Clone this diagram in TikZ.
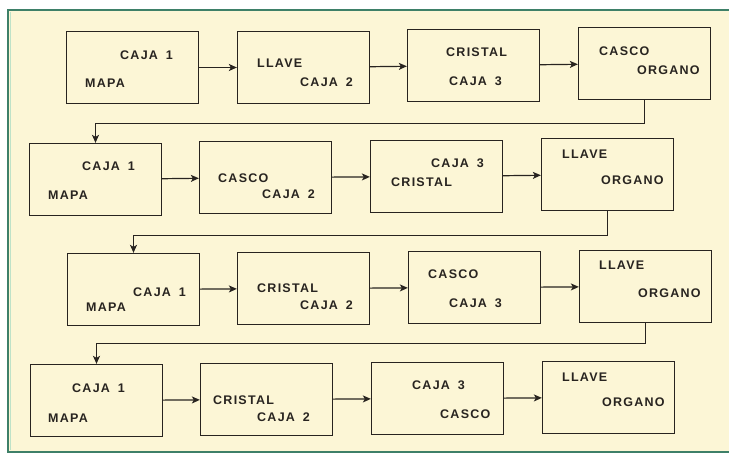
\documentclass[tikz,border=0pt]{standalone}
\usepackage{fontspec}
\setmainfont{Liberation Sans}[LetterSpace=10]
\usetikzlibrary{arrows.meta}
\definecolor{crema}{RGB}{252,246,214}
\definecolor{marco}{RGB}{62,128,104}
\definecolor{menta}{RGB}{190,226,200}
\definecolor{tinta}{RGB}{40,36,32}
\begin{document}
\begin{tikzpicture}[x=1pt,y=-1pt,
    caja/.style={draw=tinta,line width=1.3pt,minimum width=132pt,minimum height=72pt,inner sep=0pt},
    lbl/.style={anchor=west,inner sep=0pt,text=tinta,font=\bfseries\fontsize{12.5}{14}\selectfont},
    flecha/.style={draw=tinta,line width=1.2pt,-{Stealth[length=8pt,width=7pt,inset=2pt]}}]
      \useasboundingbox (0,0) rectangle (729,455);
      \fill[crema] (8,10) rectangle (729,452);
      \draw[menta,line width=1.2pt] (10.5,12) -- (10.5,450);
      \draw[marco,line width=2.2pt] (729,10) -- (8,10) -- (8,452) -- (729,452);
      % cajas
      \foreach \n/\x/\y in {b1/132.5/67.5,b2/303.5/67.5,b3/473.5/65.5,b4/644.5/63.5,
                            b5/95.5/179.5,b6/265.5/177.5,b7/436.5/176.5,b8/607.5/174.5,
                            b9/133.5/289.5,b10/303.5/288.5,b11/474.5/287.5,b12/645.5/286.5,
                            b13/96.5/400.5,b14/266.5/399.5,b15/437.5/398.5,b16/608.5/397.5} {
        \node[caja] (\n) at (\x,\y) {};
      }
      % textos
      \foreach \n/\x/\y/\t in {t1a/120/55/{CAJA\hspace{8pt}1},t1b/85/83/MAPA,
                               t2a/257/63/LLAVE,t2b/300/82/{CAJA\hspace{8pt}2},
                               t3a/446/52/CRISTAL,t3b/449/81/{CAJA\hspace{8pt}3},
                               t4a/599/51/CASCO,t4b/637/70/ORGANO,
                               t5a/82/166/{CAJA\hspace{8pt}1},t5b/48/195/MAPA,
                               t6a/218/178/CASCO,t6b/262/194/{CAJA\hspace{8pt}2},
                               t7a/431/163/{CAJA\hspace{8pt}3},t7b/391/182/CRISTAL,
                               t8a/562/154/LLAVE,t8b/601/180/ORGANO,
                               t9a/133/292/{CAJA\hspace{8pt}1},t9b/86/307/MAPA,
                               t10a/257/288/CRISTAL,t10b/300/305/{CAJA\hspace{8pt}2},
                               t11a/428/274/CASCO,t11b/449/303/{CAJA\hspace{8pt}3},
                               t12a/599/265/LLAVE,t12b/638/293/ORGANO,
                               t13a/72/388/{CAJA\hspace{8pt}1},t13b/48/418/MAPA,
                               t14a/213/400/CRISTAL,t14b/257/417/{CAJA\hspace{8pt}2},
                               t15a/412/385/{CAJA\hspace{8pt}3},t15b/440/414/CASCO,
                               t16a/562/377/LLAVE,t16b/602/402/ORGANO} {
        \node[lbl] (\n) at (\x,\y) {\t};
      }
      % flechas de cada fila
      \foreach \a/\b in {b1/b2,b2/b3,b3/b4,b5/b6,b6/b7,b7/b8,
                         b9/b10,b10/b11,b11/b12,b13/b14,b14/b15,b15/b16} {
        \draw[flecha] (\a) -- (\b);
      }
      % retornos entre filas
      \draw[flecha] (b4.south) -- ++(0,23) -| (b5.north);
      \draw[flecha] (b8.south) -- ++(0,24) -| (b9.north);
      \draw[flecha] (b12.south) -- ++(0,20) -| (b13.north);
    \end{tikzpicture}
\end{document}
